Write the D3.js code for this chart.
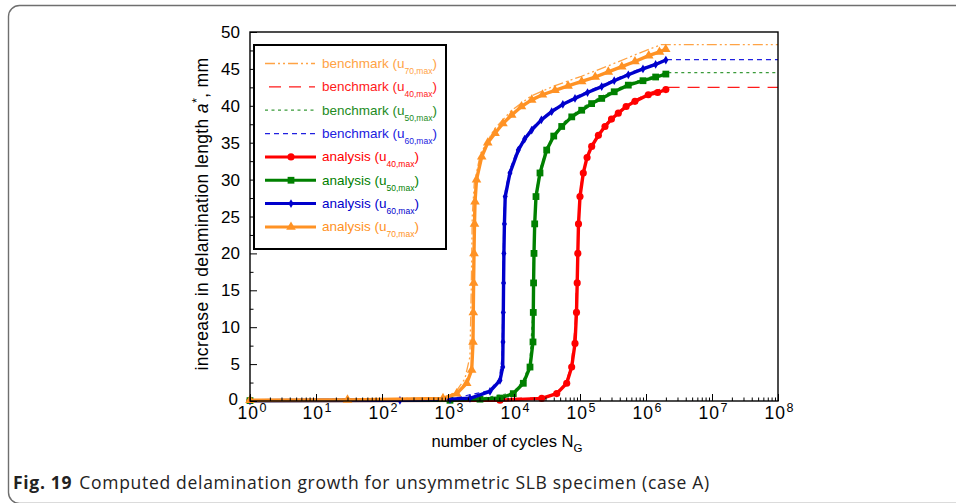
<!DOCTYPE html>
<html><head><meta charset="utf-8">
<script src="https://cdn.jsdelivr.net/npm/d3@7"></script>
<style>body{margin:0;background:#fff}svg{display:block}</style>
</head><body>
<svg id="chart" width="956" height="503"></svg>
<script>
// ---------- data ----------
const xTickExponents = [0,1,2,3,4,5,6,7,8];
const yTickValues = [0,5,10,15,20,25,30,35,40,45,50];

// analysis u40,max (red)
const nRedA = [1,6136,26300,44400,62900,74800,84000,88500,90700,92700,94900,100000,112200,128000,150300,190000,239100,300000,380500,500000,680000,1083000,1500000,2000000];
const aRedA = [0.05,0.1,0.35,1.0,2.4,4.6,7.8,12,16,20,24,27.7,30.9,33.0,34.5,36.0,37.2,38.2,39.0,39.9,40.6,41.5,41.8,42.2];
// analysis u50,max (green)
const nGreenA = [1,1072,3053,6136,9750,13830,17480,19400,19600,19800,20090,20590,21540,24760,31280,40000,52800,75000,106100,150000,213300,330000,539500,900000,1400000,2000000];
const aGreenA = [0.05,0.1,0.25,0.4,1.0,2.4,4.6,8,12,16,20,24,27.7,30.9,34.0,35.9,37.2,38.5,39.4,40.3,41.0,41.9,42.8,43.4,43.9,44.3];
// analysis u60,max (blue)
const nBlueA = [1,187,1072,2154,4329,6136,6745,6813,6887,6950,7030,7160,7360,8690,11620,14500,18540,26000,37250,55000,84000,130000,213300,330000,539500,900000,1400000,2000000];
const aBlueA = [0.05,0.1,0.23,0.37,1.3,2.8,4.6,8,12,16,20,24,27.7,30.9,34.0,35.5,36.7,38.1,39.2,40.2,41.0,41.8,42.6,43.4,44.2,45.0,45.6,46.2];
// analysis u70,max (orange)
const nOrangeA = [1,30,840,1355,1920,2286,2393,2416,2443,2477,2520,2566,2704,3243,4000,5155,6800,9227,13000,18540,27000,41800,66000,106100,170000,268600,430000,680000,1100000,1600000,1990000];
const aOrangeA = [0.1,0.15,0.35,1.0,2.4,4.2,8,12,16,20,24,27,30,33.1,35.0,36.3,37.6,38.75,39.9,40.8,41.5,42.1,42.7,43.3,43.9,44.6,45.3,46.0,46.8,47.3,47.65];

// benchmarks
const nRedB = [1,26000,44000,62000,74000,84000,90000,96000,100000,112000,150000,239000,380000,680000,1080000,2000000,1e8];
const aRedB = [0.05,0.4,1.1,2.6,5,10,18,26,28.5,31.2,34.7,37.4,39.2,40.8,41.7,42.5,42.5];
const nGreenB = [1,3000,9500,13500,17300,19300,20000,21500,24500,31000,52000,105000,213000,540000,2000000,1e8];
const aGreenB = [0.05,0.3,1.1,2.6,5,12,22,28,31.2,34.3,37.5,39.7,41.3,43.0,44.5,44.5];
const nBlueB = [1,1000,4200,6000,6600,6800,7000,7400,8600,11500,18500,37000,84000,213000,540000,2000000,1e8];
const aBlueB = [0.05,0.2,1.4,3,6,15,25,28.5,31.3,34.3,37.0,39.4,41.2,42.8,44.4,46.25,46.25];
const nOrangeB = [1,840,1300,1800,2150,2250,2330,2500,3100,5000,9000,18000,41000,105000,265000,680000,1700000,1e8];
const aOrangeB = [0.1,0.4,1.2,3,6,15,25,29.5,33.5,36.8,39.3,41.3,42.7,44.0,45.4,46.9,48.3,48.3];

const legendSubs = ["70,max","40,max","50,max","60,max","40,max","50,max","60,max","70,max"];

// ---------- drawing ----------
const svg = d3.select("#chart");
const FONT = "'Liberation Sans', Arial, Helvetica, sans-serif";

// outer rounded frame
svg.append("rect").attr("x",8.5).attr("y",5.5).attr("width",1000).attr("height",498)
  .attr("rx",11).attr("fill","none").attr("stroke","#6f6f6f").attr("stroke-width",1.4);

const x = d3.scaleLog().domain([1,1e8]).range([250,778]);
const y = d3.scaleLinear().domain([0,50]).range([401,32]);

const zip = (ns, as) => ns.map((n,i)=>({n, a: as[i]}));
const line = d3.line().x(d=>x(d.n)).y(d=>y(d.a));

const benchmarks = [
  {data: zip(nRedB,aRedB), color:"#ff1a1a", dash:"12,8", w:1.2},
  {data: zip(nGreenB,aGreenB), color:"#3a9a3a", dash:"3,3.5", w:1.3},
  {data: zip(nBlueB,aBlueB), color:"#2020e0", dash:"5,4", w:1.2},
  {data: zip(nOrangeB,aOrangeB), color:"#ffa345", dash:"10,3,2,3,2,3", w:1.3}
];
const analyses = [
  {data: zip(nRedA,aRedA), color:"#ff0000", sym:d3.symbolCircle, size:40},
  {data: zip(nGreenA,aGreenA), color:"#008000", sym:d3.symbolSquare, size:46},
  {data: zip(nBlueA,aBlueA), color:"#0000cc", sym:d3.symbolDiamond, size:22},
  {data: zip(nOrangeA,aOrangeA), color:"#ff9224", sym:d3.symbolTriangle, size:40}
];

const plot = svg.append("g");
benchmarks.forEach(b=>{
  plot.append("path").datum(b.data).attr("d",line).attr("fill","none")
    .attr("stroke",b.color).attr("stroke-width",b.w).attr("stroke-dasharray",b.dash);
});
analyses.forEach(s=>{
  plot.append("path").datum(s.data).attr("d",line).attr("fill","none")
    .attr("stroke",s.color).attr("stroke-width",3.4).attr("stroke-linejoin","round");
  plot.selectAll(null).data(s.data).enter().append("path")
    .attr("d", d3.symbol().type(s.sym).size(s.size))
    .attr("transform", d=>`translate(${x(d.n)},${y(d.a)})`)
    .attr("fill", s.color);
});

// axes frame
svg.append("rect").attr("x",250).attr("y",32).attr("width",528).attr("height",369)
  .attr("fill","none").attr("stroke","#000").attr("stroke-width",1.4);

// x ticks
const majorX = xTickExponents.map(e=>Math.pow(10,e));
const minorX = [];
xTickExponents.slice(0,-1).forEach(e=>{ for(let k=2;k<10;k++) minorX.push(k*Math.pow(10,e)); });
const gx = svg.append("g").attr("transform","translate(0,401)");
gx.call(d3.axisBottom(x).tickValues(minorX).tickSize(-3.5).tickFormat(""));
gx.append("g").call(d3.axisBottom(x).tickValues(majorX).tickSize(-7).tickFormat(""));
gx.selectAll(".domain").remove();
gx.selectAll("line").attr("stroke","#000").attr("stroke-width",1);

const xl = svg.append("g");
xTickExponents.forEach(e=>{
  const t = xl.append("text").attr("x", x(Math.pow(10,e))+1 + (e===0?1:0)).attr("y",419)
    .attr("text-anchor","middle").attr("font-family",FONT).attr("font-size",17.5).attr("fill","#000");
  t.append("tspan").attr("letter-spacing",1).text("10");
  t.append("tspan").attr("dy",-7).attr("dx",0.5).attr("font-size",12.5).text(e);
});

// y ticks
const minorY = d3.range(2.5,50,5);
const gy = svg.append("g").attr("transform","translate(250,0)");
gy.call(d3.axisLeft(y).tickValues(minorY).tickSize(-3.5).tickFormat(""));
gy.append("g").call(d3.axisLeft(y).tickValues(yTickValues).tickSize(-7).tickFormat(""));
gy.selectAll(".domain").remove();
gy.selectAll("line").attr("stroke","#000").attr("stroke-width",1);
yTickValues.forEach(v=>{
  svg.append("text").attr("x", v===0 ? 238 : 240).attr("y",y(v)+6 - (v===0?2.5:0)).attr("text-anchor","end")
    .attr("font-family",FONT).attr("font-size",17).attr("fill","#000").text(v);
});

// axis titles
const xt = svg.append("text").attr("x",507).attr("y",447).attr("text-anchor","middle")
  .attr("font-family",FONT).attr("font-size",16.6).attr("fill","#000");
xt.append("tspan").text("number of cycles N");
xt.append("tspan").attr("dy",5).attr("font-size",11.5).text("G");

const yt = svg.append("text").attr("transform","translate(208,214) rotate(-90)")
  .attr("text-anchor","middle").attr("font-family",FONT).attr("font-size",17.5)
  .attr("letter-spacing",0.35).attr("fill","#000");
yt.append("tspan").text("increase in delamination length ");
yt.append("tspan").attr("font-style","italic").text("a");
yt.append("tspan").attr("dy",-7).attr("font-size",12.5).text("*");
yt.append("tspan").attr("dy",7).text(", mm");

// legend
const legend = svg.append("g");
legend.append("rect").attr("x",254).attr("y",45).attr("width",192).attr("height",204)
  .attr("fill","#fff").attr("stroke","#000").attr("stroke-width",2);
const legendItems = [
  {label:"benchmark (u", color:"#ffa345", b:benchmarks[3]},
  {label:"benchmark (u", color:"#ff1a1a", b:benchmarks[0]},
  {label:"benchmark (u", color:"#228b22", b:benchmarks[1]},
  {label:"benchmark (u", color:"#2020e0", b:benchmarks[2]},
  {label:"analysis (u", color:"#ff0000", a:analyses[0]},
  {label:"analysis (u", color:"#008000", a:analyses[1]},
  {label:"analysis (u", color:"#0000cc", a:analyses[2]},
  {label:"analysis (u", color:"#ff9224", a:analyses[3]}
];
legendItems.forEach((it,i)=>{
  const cy = 63.5 + i*23.35;
  if (it.b) {
    legend.append("line").attr("x1",265).attr("x2",315).attr("y1",cy).attr("y2",cy)
      .attr("stroke",it.b.color).attr("stroke-width",1.3).attr("stroke-dasharray",it.b.dash)
      .attr("stroke-dashoffset", it.b.dash==="12,8" ? -4 : 0);
  } else {
    legend.append("line").attr("x1",265).attr("x2",316).attr("y1",cy).attr("y2",cy)
      .attr("stroke",it.a.color).attr("stroke-width",3);
    legend.append("path").attr("d", d3.symbol().type(it.a.sym).size(it.a.size))
      .attr("transform",`translate(291,${cy})`).attr("fill",it.a.color);
  }
  const t = legend.append("text").attr("x",322).attr("y",cy+4.5)
    .attr("font-family",FONT).attr("font-size",13.5).attr("fill",it.color);
  t.append("tspan").text(it.label);
  t.append("tspan").attr("dy",6).attr("font-size",8.5).text(legendSubs[i]);
  t.append("tspan").attr("dy",-6).text(")");
});

// caption
const cap = svg.append("text").attr("x",13).attr("y",489)
  .attr("font-family","'Open Sans', 'Noto Sans', sans-serif").attr("font-size",17.5)
  .attr("letter-spacing",0.7).attr("fill","#222");
cap.append("tspan").attr("font-weight","bold").text("Fig. 19");
cap.append("tspan").attr("dx",7).text("Computed delamination growth for unsymmetric SLB specimen (case A)");
</script>
</body></html>
